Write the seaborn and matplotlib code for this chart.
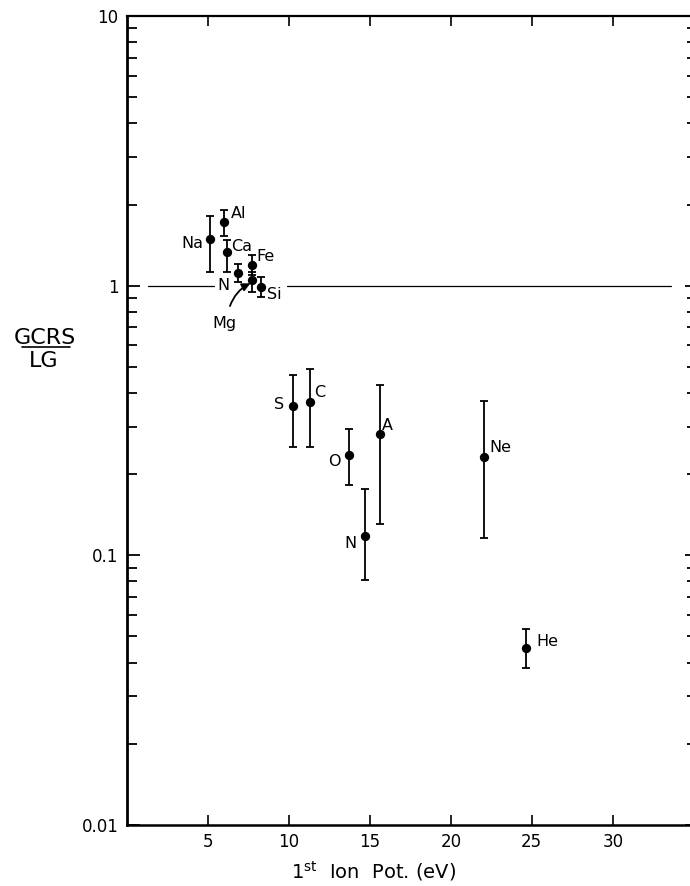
import matplotlib
matplotlib.use("Agg")
import matplotlib.pyplot as plt
from matplotlib.lines import Line2D
from matplotlib.ticker import FixedLocator, FixedFormatter, LogLocator, NullFormatter
import numpy as np
import pandas as pd
import seaborn as sns

# Galactic cosmic ray source / local galactic abundance ratios
elements = ["Na", "Al", "Ca", "N", "Fe", "Mg", "Si", "S", "C", "O", "A", "N", "Ne", "He"]
ion_pot = [5.12, 6.00, 6.20, 6.83, 7.70, 7.70, 8.25, 10.25, 11.30, 13.72, 15.60, 14.73, 22.04, 24.67]
ratio = [1.49, 1.72, 1.33, 1.11, 1.19, 1.05, 0.99, 0.357, 0.370, 0.235, 0.281, 0.118, 0.232, 0.0453]
ratio_hi = [1.82, 1.91, 1.48, 1.20, 1.30, 1.12, 1.077, 0.468, 0.489, 0.295, 0.428, 0.176, 0.373, 0.0532]
ratio_lo = [1.12, 1.53, 1.12, 1.03, 1.10, 0.948, 0.908, 0.253, 0.252, 0.183, 0.131, 0.081, 0.116, 0.0382]

# label placement (offset in points from the point, horizontal alignment)
label_dx = [-5, 5, 3, -5.5, 3.5, 0, 4.5, -6.5, 3, -6, 1.5, -6.5, 4, 7]
label_dy = [-3, 6, 4, -9, 6, 0, -5.5, 1, 7, -4.5, 6, -5.5, 6.5, 5]
label_ha = ["right", "left", "left", "right", "left", None, "left", "right", "left",
            "right", "left", "right", "left", "left"]

ytick_vals = [0.01, 0.1, 1, 10]
ytick_text = ["0.01", "0.1", "1", "10"]
xtick_vals = [5, 10, 15, 20, 25, 30]

df = pd.DataFrame({"element": elements, "ip": ion_pot, "ratio": ratio,
                   "hi": ratio_hi, "lo": ratio_lo})

sns.set_theme(style="ticks")
plt.rcParams["font.family"] = ["DejaVu Sans"]
plt.rcParams["mathtext.fontset"] = "dejavusans"
plt.rcParams["text.color"] = "black"
plt.rcParams["axes.labelcolor"] = "black"
plt.rcParams["xtick.color"] = "black"
plt.rcParams["ytick.color"] = "black"

fig = plt.figure(figsize=(6.9, 8.86), dpi=100)
ax = fig.add_axes([0.184, 0.0689, 0.8261, 0.913])

# error bars
ax.errorbar(df["ip"], df["ratio"],
            yerr=[df["ratio"] - df["lo"], df["hi"] - df["ratio"]],
            fmt="none", ecolor="black", elinewidth=1.3, capsize=3.0, capthick=1.3,
            zorder=2)

sns.scatterplot(data=df, x="ip", y="ratio", color="black", s=45, edgecolor="black",
                linewidth=0, ax=ax, zorder=3, legend=False)

# unity reference line
ax.plot([1.3, 5.4], [1, 1], color="black", lw=0.9, zorder=1)
ax.plot([9.9, 33.6], [1, 1], color="black", lw=0.9, zorder=1)

for el, x, y, dx, dy, ha in zip(elements, ion_pot, ratio, label_dx, label_dy, label_ha):
    if ha is None:
        continue
    ax.annotate(el, xy=(x, y), xytext=(dx, dy), textcoords="offset points",
                ha=ha, va="center", fontsize=11.5, color="black")

# Mg is labelled below with an arrow
ax.annotate("", xy=(7.62, 1.02), xytext=(6.36, 0.84),
            arrowprops=dict(arrowstyle="-|>", connectionstyle="arc3,rad=-0.2",
                            lw=1.3, color="black", shrinkA=0, shrinkB=0,
                            mutation_scale=12))
ax.text(5.99, 0.727, "Mg", ha="center", va="center", fontsize=11.5, color="black")

ax.set_yscale("log")
ax.set_ylim(0.01, 10)
ax.set_xlim(0, 35.2)
ax.yaxis.set_major_locator(FixedLocator(ytick_vals))
ax.yaxis.set_major_formatter(FixedFormatter(ytick_text))
ax.yaxis.set_minor_locator(LogLocator(base=10, subs=np.arange(2, 10)))
ax.yaxis.set_minor_formatter(NullFormatter())
ax.xaxis.set_major_locator(FixedLocator(xtick_vals))
ax.xaxis.set_minor_locator(FixedLocator([]))

ax.tick_params(axis="both", which="both", direction="in", top=True, right=True,
               labeltop=False, labelright=False, color="black", labelsize=12,
               labelcolor="black")
ax.tick_params(axis="y", which="major", length=9, width=1.3, pad=6)
ax.tick_params(axis="y", which="minor", length=7, width=1.3)
ax.tick_params(axis="x", which="major", length=7, width=1.2, pad=6)

for side, lw in {"left": 2.0, "bottom": 1.8, "top": 1.6, "right": 1.6}.items():
    ax.spines[side].set_linewidth(lw)
    ax.spines[side].set_color("black")
    ax.spines[side].set_visible(True)

ax.set_xlabel("")
ax.set_ylabel("")
ax.text(0.432, -0.0655, r"1$^{\mathrm{st}}$  Ion  Pot. (eV)", transform=ax.transAxes,
        ha="center", va="baseline", fontsize=14, color="black")

# fraction-style y label
fig.text(0.065, 0.619, "GCRS", ha="center", va="center", fontsize=16, color="black")
fig.add_artist(Line2D([0.0319, 0.1014], [0.6080, 0.6080], color="black", lw=1.2,
                      transform=fig.transFigure))
fig.text(0.0638, 0.592, "LG", ha="center", va="center", fontsize=16, color="black")

fig.savefig("out.png", dpi=100)
